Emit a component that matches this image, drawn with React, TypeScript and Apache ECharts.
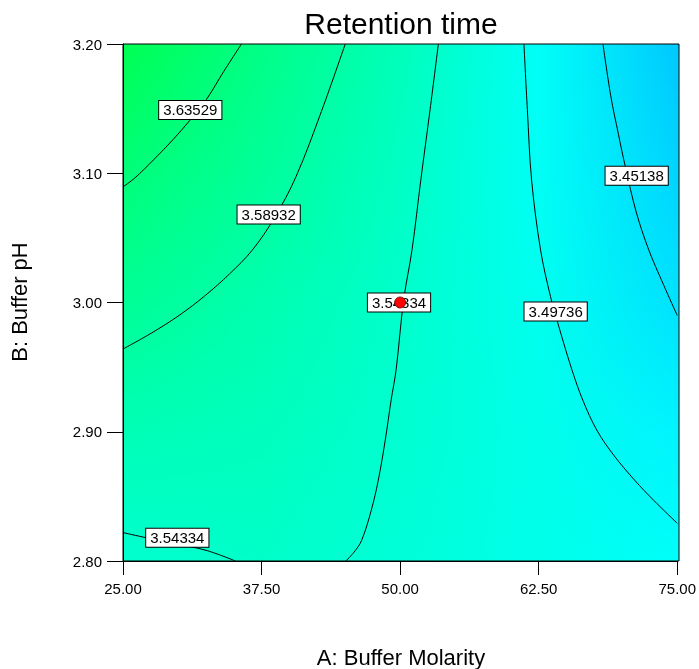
import React, { useEffect, useRef } from "react";
import * as echarts from "echarts";

// ---- data ----
const xTicks = [25, 37.5, 50, 62.5, 75];
const yTicks = [2.8, 2.9, 3.0, 3.1, 3.2];

const contourLevels = ["3.63529", "3.58932", "3.54334", "3.54334", "3.49736", "3.45138"];

const line3_63529 = [[35.69, 3.2], [34.07, 3.1785], [32.51, 3.1569], [31.0, 3.1406], [29.5, 3.1259], [27.76, 3.1104], [26.05, 3.0962], [25, 3.0895]];
const line3_58932 = [[45.05, 3.2], [42.89, 3.1476], [40.61, 3.0974], [38.66, 3.0655], [36.68, 3.0407], [34.61, 3.0221], [32.36, 3.005], [30.11, 2.9903], [27.58, 2.9764], [25, 2.964]];
const line3_54334a = [[53.45, 3.2], [52.7, 3.149], [51.87, 3.095], [51.08, 3.041], [50.32, 3.002], [49.64, 2.948], [49.19, 2.9245], [48.65, 2.893], [48.02, 2.862], [47.39, 2.839], [46.53, 2.816], [45.86, 2.807], [45.1, 2.8]];
const line3_54334b = [[25, 2.822], [27.1, 2.818], [30.0, 2.813], [32.6, 2.808], [35.15, 2.8]];
const line3_49736 = [[61.17, 3.2], [61.48, 3.1491], [61.86, 3.0949], [62.67, 3.0407], [63.57, 3.0045], [64.32, 2.9813], [65.51, 2.9477], [66.48, 2.9245], [67.74, 2.9013], [69.27, 2.8819], [71.16, 2.8625], [72.87, 2.847], [75, 2.8292]];
const line3_45138 = [[68.3, 3.2], [69.0, 3.16], [69.7, 3.13], [70.32, 3.105], [71.3, 3.07], [72.42, 3.041], [73.7, 3.015], [75, 2.99]];
const contourLines = [line3_63529, line3_58932, line3_54334a, line3_54334b, line3_49736, line3_45138];

const labelX = [31.07, 38.14, 49.9, 29.9, 64.03, 71.34];
const labelY = [3.149, 3.068, 3.0, 2.818, 2.993, 3.098];
const labelText = ["3.63529", "3.58932", "3.54334", "3.54334", "3.49736", "3.45138"];

const designPoints = [[50, 3.0]];

// ---- style: background colour field (rows top→bottom, cols 25→75) ----
const FILL_ROWS = [3.2, 3.1, 3.0, 2.9, 2.8];
const FILL_COLORS = [
  ["#00ff52", "#00ff86", "#00ffba", "#00fff8", "#00c8ff"],
  ["#00ff78", "#00ff9a", "#00ffc4", "#00fff6", "#00d4ff"],
  ["#00ff95", "#00ffb0", "#00ffcc", "#00fff0", "#00e2ff"],
  ["#00ffb6", "#00ffbd", "#00ffd0", "#00ffea", "#00f4ff"],
  ["#00ffcf", "#00ffc8", "#00ffd8", "#00ffea", "#00fffa"],
];

const GRID = { left: 123, top: 44, width: 556, height: 517 };
const FONT = "'Liberation Sans', Arial, Helvetica, sans-serif";

function hexToRgb(h: string) {
  const n = parseInt(h.slice(1), 16);
  return [(n >> 16) & 255, (n >> 8) & 255, n & 255];
}
function mix(a: string, b: string, t: number) {
  const A = hexToRgb(a), B = hexToRgb(b);
  const c = A.map((v, i) => Math.round(v + (B[i] - v) * t));
  return `rgb(${c[0]},${c[1]},${c[2]})`;
}

function buildBackground() {
  const els: any[] = [];
  const step = 3;
  for (let py = 0; py < GRID.height; py += step) {
    const yv = 3.2 - ((py + step / 2) / GRID.height) * 0.4;
    let r = 0;
    while (r < FILL_ROWS.length - 2 && yv < FILL_ROWS[r + 1]) r++;
    const t = Math.min(1, Math.max(0, (FILL_ROWS[r] - yv) / (FILL_ROWS[r] - FILL_ROWS[r + 1])));
    const stops = FILL_COLORS[r].map((c, i) => ({
      offset: i / (FILL_COLORS[r].length - 1),
      color: mix(c, FILL_COLORS[r + 1][i], t),
    }));
    els.push({
      type: "rect",
      silent: true,
      z: 0,
      shape: { x: GRID.left, y: GRID.top + py, width: GRID.width, height: Math.min(step + 1, GRID.height - py) },
      style: { fill: new echarts.graphic.LinearGradient(0, 0, 1, 0, stops) },
    });
  }
  return els;
}

export default function App() {
  const ref = useRef<HTMLDivElement>(null);
  useEffect(() => {
    if (!ref.current) return;
    const chart = echarts.init(ref.current, undefined, { renderer: "svg" });
    const lineSeries = contourLines.map((pts, i) => ({
      type: "line",
      name: contourLevels[i],
      data: pts,
      smooth: 0.35,
      showSymbol: false,
      symbol: "none",
      lineStyle: { color: "#000", width: 1 },
      z: 3,
      silent: true,
    }));
    const labelData = labelX.map((x, i) => [x, labelY[i], labelText[i]]);
    chart.setOption({
      animation: false,
      grid: { ...GRID, containLabel: false },
      xAxis: {
        type: "value",
        min: xTicks[0],
        max: xTicks[xTicks.length - 1],
        interval: 12.5,
        axisLine: { show: true, lineStyle: { color: "#000", width: 1 } },
        axisTick: { show: true, length: 14, lineStyle: { color: "#000" } },
        axisLabel: { formatter: (v: number) => v.toFixed(2), color: "#000", fontSize: 15, fontFamily: FONT, margin: 20 },
        splitLine: { show: false },
      },
      yAxis: {
        type: "value",
        min: yTicks[0],
        max: yTicks[yTicks.length - 1],
        interval: 0.1,
        axisLine: { show: true, lineStyle: { color: "#000", width: 1 } },
        axisTick: { show: true, length: 16, lineStyle: { color: "#000" } },
        axisLabel: { formatter: (v: number) => v.toFixed(2), color: "#000", fontSize: 15, fontFamily: FONT, margin: 21 },
        splitLine: { show: false },
      },
      graphic: [
        ...buildBackground(),
        {
          type: "rect",
          silent: true,
          z: 50,
          shape: { x: GRID.left, y: GRID.top, width: GRID.width, height: GRID.height },
          style: { fill: "none", stroke: "#000", lineWidth: 1 },
        },
        {
          type: "text",
          z: 50,
          x: 401,
          y: 23,
          style: { text: "Retention time", fontSize: 30, fontFamily: FONT, fill: "#000", textAlign: "center", textVerticalAlign: "middle" },
        },
        {
          type: "text",
          z: 50,
          x: 401,
          y: 657,
          style: { text: "A: Buffer Molarity", fontSize: 22, fontFamily: FONT, fill: "#000", textAlign: "center", textVerticalAlign: "middle" },
        },
        {
          type: "text",
          z: 50,
          x: 19,
          y: 302,
          rotation: Math.PI / 2,
          style: { text: "B: Buffer pH", fontSize: 22, fontFamily: FONT, fill: "#000", textAlign: "center", textVerticalAlign: "middle" },
        },
      ],
      series: [
        ...lineSeries,
        {
          type: "scatter",
          data: labelData,
          symbolSize: 0,
          z: 4,
          silent: true,
          itemStyle: { opacity: 1 },
          label: {
            show: true,
            position: "inside",
            formatter: (p: any) => p.data[2],
            color: "#000",
            opacity: 1,
            fontSize: 15,
            fontFamily: FONT,
            backgroundColor: "#ffffff",
            borderColor: "#000",
            borderWidth: 1,
            padding: [2, 4, 1, 4],
          },
        },
        {
          type: "scatter",
          data: designPoints,
          symbol: "circle",
          symbolSize: 11,
          z: 6,
          silent: true,
          itemStyle: { color: "#ff0000", borderColor: "#600", borderWidth: 0.8, opacity: 1 },
        },
      ],
    });
    return () => chart.dispose();
  }, []);
  return <div ref={ref} style={{ position: "fixed", left: 0, top: 0, width: 699, height: 669 }} />;
}
